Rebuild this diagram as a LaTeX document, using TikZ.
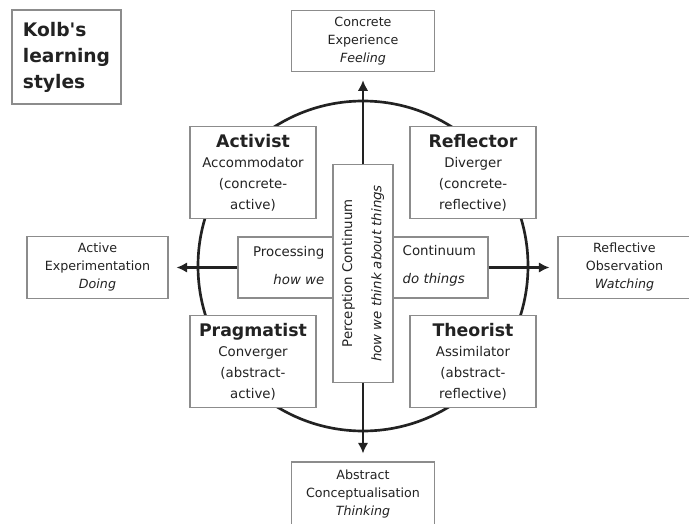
\documentclass[tikz,border=0pt]{standalone}
\usepackage{fontspec}
\setmainfont{DejaVu Sans}
\usetikzlibrary{arrows.meta}
\definecolor{Cboxgray}{HTML}{8C8C8C}
\definecolor{Cinkdark}{HTML}{222222}
\tikzset{
  box/.style={draw=Cboxgray,line width=0.8pt,fill=white,align=center,text=Cinkdark,inner sep=2pt},
  quad/.style={box,minimum width=94.5pt,minimum height=69pt,font=\fontsize{10}{15.5}\selectfont},
  outer/.style={box,minimum height=46pt,font=\fontsize{9.5}{13.5}\selectfont},
  flow/.style={-{Latex[length=8pt,width=8pt]},line width=1.8pt,Cinkdark,shorten >=6pt},
}
\newcommand{\hdr}[1]{{\fontsize{13}{17}\selectfont\bfseries #1}}

\begin{document}
\begin{tikzpicture}[x=0.75pt,y=-0.75pt]
	\useasboundingbox[fill=white] (0,0) rectangle (689,524);
	% circle behind the boxes
	\draw[Cinkdark,line width=2pt] (363,266) circle [radius=165];
	% title
	\node[box,align=left,minimum width=81.75pt,minimum height=70.5pt,
		font=\fontsize{14}{19.5}\selectfont\bfseries] (title) at (66.5,57) {Kolb\textquotesingle s\\learning\\styles};
	% four styles
	\node[quad] (activist) at (253,172.5) {\hdr{Activist}\\Accommodator\\(concrete-\\active)};
	\node[quad] (reflector) at (473,172.5) {\hdr{Reflector}\\Diverger\\(concrete-\\reflective)};
	\node[quad] (pragmatist) at (253,361.5) {\hdr{Pragmatist}\\Converger\\(abstract-\\active)};
	\node[quad] (theorist) at (473,361.5) {\hdr{Theorist}\\Assimilator\\(abstract-\\reflective)};
	% the two continua
	\node[box,minimum width=187.5pt,minimum height=45.75pt] (processing) at (363,267.5) {};
	\node[text=Cinkdark,anchor=east,align=right,font=\fontsize{10}{21}\selectfont] (procleft) at (329,266) {Processing\\\textit{how we}};
	\node[text=Cinkdark,anchor=west,align=left,font=\fontsize{10}{21}\selectfont] (procright) at (398,266) {Continuum\\\textit{do things}};
	\node[box,rotate=90,minimum width=163pt,minimum height=45pt,font=\fontsize{10}{22}\selectfont] (perception) at (363,273.5)
		{Perception Continuum\\\textit{how we think about things}};
	% poles
	\node[outer,minimum width=107.25pt] (concrete) at (363,41) {Concrete\\Experience\\\textit{Feeling}};
	\node[outer,minimum width=105.75pt] (activeexp) at (97.5,267.5) {Active\\Experimentation\\\textit{Doing}};
	\node[outer,minimum width=99.75pt] (reflobs) at (624.5,267.5) {Reflective\\Observation\\\textit{Watching}};
	\node[outer,minimum width=107.25pt,minimum height=48.75pt] (abstract) at (363,494.5) {Abstract\\Conceptualisation\\\textit{Thinking}};
	% arrows
	\draw[flow] (perception.east) -- (concrete.south);
	\draw[flow] (perception.west) -- (abstract.north);
	\draw[flow] (processing.west) -- (activeexp.east);
	\draw[flow] (processing.east) -- (reflobs.west);
\end{tikzpicture}
\end{document}
